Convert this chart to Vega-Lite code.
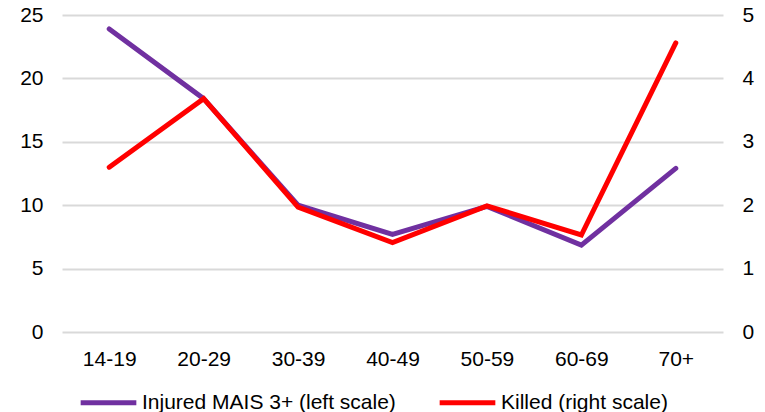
{
  "$schema": "https://vega.github.io/schema/vega-lite/v6.json",
  "width": 661,
  "height": 317,
  "autosize": {"type": "none"},
  "padding": {"left": 62, "top": 15, "right": 42, "bottom": 80},
  "background": "white",
  "config": {
    "view": {"stroke": null},
    "font": "Liberation Sans",
    "axis": {
      "labelFont": "Liberation Sans",
      "labelFontSize": 21,
      "labelColor": "#000000",
      "domain": false,
      "ticks": false,
      "title": null,
      "gridColor": "#d9d9d9",
      "gridWidth": 2
    },
    "legend": {
      "labelFont": "Liberation Sans",
      "labelFontSize": 21,
      "labelColor": "#000000",
      "labelLimit": 0
    }
  },
  "data": {
    "values": [
      {"age": "14-19", "series": "Injured MAIS 3+ (left scale)", "value": 23.9},
      {"age": "20-29", "series": "Injured MAIS 3+ (left scale)", "value": 18.4},
      {"age": "30-39", "series": "Injured MAIS 3+ (left scale)", "value": 10.0},
      {"age": "40-49", "series": "Injured MAIS 3+ (left scale)", "value": 7.7},
      {"age": "50-59", "series": "Injured MAIS 3+ (left scale)", "value": 9.9},
      {"age": "60-69", "series": "Injured MAIS 3+ (left scale)", "value": 6.85},
      {"age": "70+", "series": "Injured MAIS 3+ (left scale)", "value": 12.9},
      {"age": "14-19", "series": "Killed (right scale)", "value": 2.6},
      {"age": "20-29", "series": "Killed (right scale)", "value": 3.68},
      {"age": "30-39", "series": "Killed (right scale)", "value": 1.97},
      {"age": "40-49", "series": "Killed (right scale)", "value": 1.41},
      {"age": "50-59", "series": "Killed (right scale)", "value": 1.99},
      {"age": "60-69", "series": "Killed (right scale)", "value": 1.53},
      {"age": "70+", "series": "Killed (right scale)", "value": 4.56}
    ]
  },
  "encoding": {
    "x": {
      "field": "age",
      "type": "ordinal",
      "sort": null,
      "scale": {"type": "point", "padding": 0.5},
      "axis": {"labelAngle": 0, "labelPadding": 16, "grid": false}
    },
    "color": {
      "field": "series",
      "type": "nominal",
      "scale": {
        "domain": ["Injured MAIS 3+ (left scale)", "Killed (right scale)"],
        "range": ["#7030a0", "#ff0000"]
      },
      "legend": {
        "title": null,
        "orient": "none",
        "direction": "horizontal",
        "legendX": 16,
        "legendY": 357,
        "symbolType": "stroke",
        "symbolSize": 3100,
        "symbolStrokeWidth": 5,
        "labelOffset": 3,
        "labelLimit": 0,
        "columnPadding": 33
      }
    }
  },
  "layer": [
    {
      "transform": [{"filter": "datum.series === 'Injured MAIS 3+ (left scale)'"}],
      "mark": {"type": "line", "strokeWidth": 5, "strokeCap": "round"},
      "encoding": {
        "y": {
          "field": "value",
          "type": "quantitative",
          "scale": {"domain": [0, 25], "nice": false},
          "axis": {"values": [0, 5, 10, 15, 20, 25], "labelPadding": 19, "grid": true}
        }
      }
    },
    {
      "transform": [{"filter": "datum.series === 'Killed (right scale)'"}],
      "mark": {"type": "line", "strokeWidth": 5, "strokeCap": "round"},
      "encoding": {
        "y": {
          "field": "value",
          "type": "quantitative",
          "scale": {"domain": [0, 5], "nice": false},
          "axis": {"orient": "right", "values": [0, 1, 2, 3, 4, 5], "labelPadding": 19, "grid": false}
        }
      }
    }
  ],
  "resolve": {"scale": {"y": "independent"}}
}
